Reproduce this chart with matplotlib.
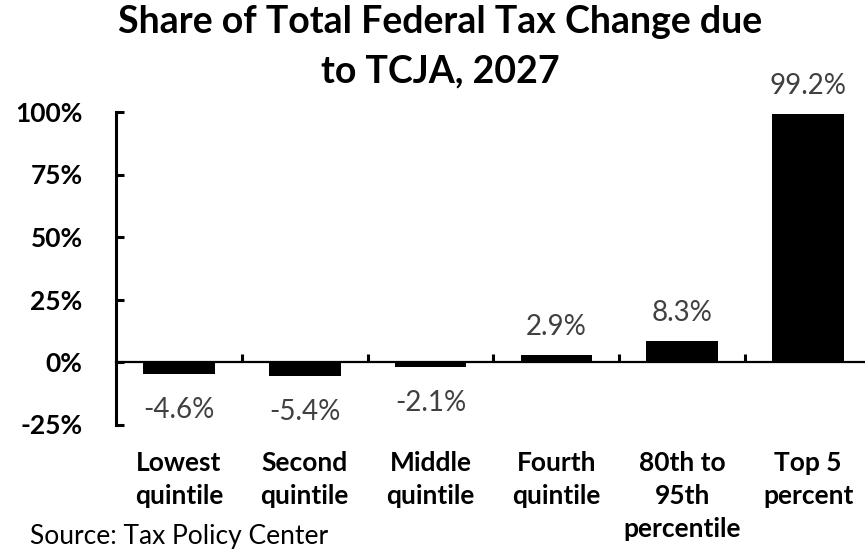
import matplotlib
matplotlib.use("Agg")
import matplotlib.pyplot as plt
from matplotlib.ticker import FixedLocator, FuncFormatter

categories = ["Lowest\nquintile", "Second\nquintile", "Middle\nquintile",
              "Fourth\nquintile", "80th to\n95th\npercentile", "Top 5\npercent"]
values = [-4.6, -5.4, -2.1, 2.9, 8.3, 99.2]
y_ticks = [-25, 0, 25, 50, 75, 100]

plt.rcParams['font.family'] = ['Lato', 'DejaVu Sans']

W, H = 865, 552
fig = plt.figure(figsize=(W / 100, H / 100), dpi=100)
ax = fig.add_axes([116 / W, 1 - 424.5 / H, (871 - 116) / W, (424.5 - 112) / H])

x = list(range(len(categories)))
ax.bar(x, values, width=0.57, color='black', zorder=2)

ax.set_xlim(-0.5, len(categories) - 0.5)
ax.set_ylim(-25, 100)

# spines
for s in ['top', 'right']:
    ax.spines[s].set_visible(False)
ax.spines['left'].set_linewidth(2.2)
ax.spines['bottom'].set_position(('data', 0))
ax.spines['bottom'].set_linewidth(1.6)
ax.spines['bottom'].set_zorder(3)

# y ticks
ax.yaxis.set_major_locator(FixedLocator(y_ticks))
ax.yaxis.set_major_formatter(FuncFormatter(lambda v, p: f"{v:.0f}%"))
ax.tick_params(axis='y', direction='in', length=6, width=2.2, pad=24,
               labelsize=19)
for lab in ax.get_yticklabels():
    lab.set_fontweight('bold')

# x ticks: labels at centres, marks at boundaries
ax.set_xticks(x)
ax.set_xticklabels(categories, fontsize=19, fontweight='bold', linespacing=1.45)
ax.set_xticks([i + 0.5 for i in x[:-1]], minor=True)
ax.tick_params(axis='x', which='major', length=0, pad=64)
ax.tick_params(axis='x', which='minor', direction='in', length=6, width=2.2)

# data labels
for xi, v in zip(x, values):
    off = 14.4 if v >= 0 else -31.7
    ax.annotate(f"{v:.1f}%", (xi, v), xytext=(0, off), textcoords='offset points',
                ha='center', va='baseline', fontsize=20, color='#404040',
                annotation_clip=False)

fig.text(440 / W, 1 - 5 / H, "Share of Total Federal Tax Change due\nto TCJA, 2027",
         ha='center', va='top', fontsize=27, fontweight='bold', linespacing=1.55)

fig.text(30 / W, 1 - 524 / H, "Source: Tax Policy Center", ha='left', va='top',
         fontsize=19, color='black')

fig.savefig("out.png", dpi=100)
